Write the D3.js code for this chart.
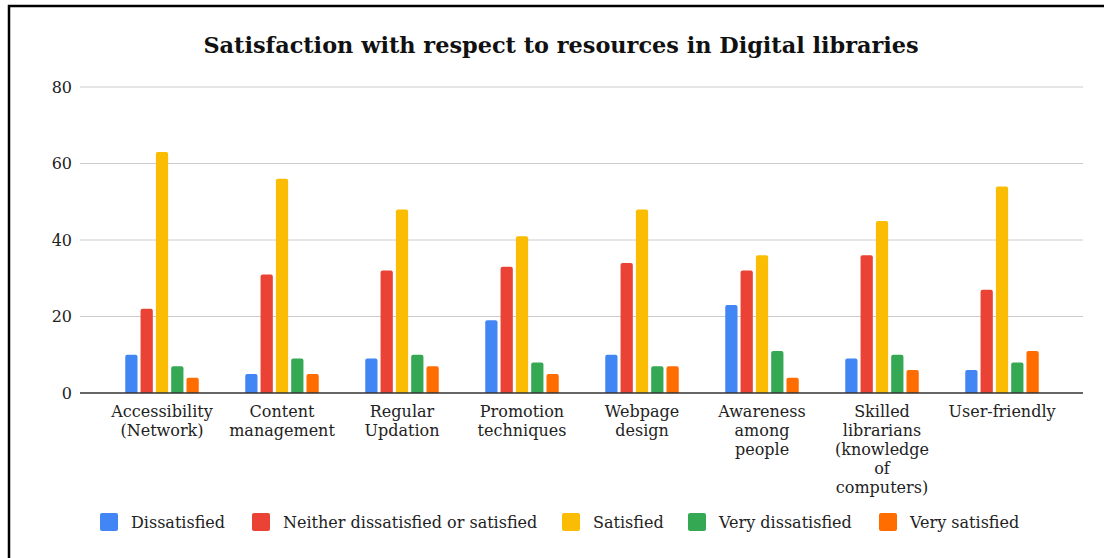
<!DOCTYPE html>
<html>
<head>
<meta charset="utf-8">
<script src="https://cdn.jsdelivr.net/npm/d3@7"></script>
<style>
  html, body { margin: 0; padding: 0; background: #fff; }
  svg { display: block; }
  text { font-family: "DejaVu Serif", "Liberation Serif", serif; fill: #222; }
</style>
</head>
<body>
<svg id="chart" width="1104" height="558"></svg>
<script>
// Survey categories (line breaks are where the axis label wraps)
const categories = [
  "Accessibility\n(Network)",
  "Content\nmanagement",
  "Regular\nUpdation",
  "Promotion\ntechniques",
  "Webpage\ndesign",
  "Awareness\namong\npeople",
  "Skilled\nlibrarians\n(knowledge\nof\ncomputers)",
  "User-friendly"
];

const seriesNames = [
  "Dissatisfied",
  "Neither dissatisfied or satisfied",
  "Satisfied",
  "Very dissatisfied",
  "Very satisfied"
];

const dissatisfied     = [10, 5, 9, 19, 10, 23, 9, 6];
const neither          = [22, 31, 32, 33, 34, 32, 36, 27];
const satisfied        = [63, 56, 48, 41, 48, 36, 45, 54];
const veryDissatisfied = [7, 9, 10, 8, 7, 11, 10, 8];
const verySatisfied    = [4, 5, 7, 5, 7, 4, 6, 11];

const yTicks = [0, 20, 40, 60, 80];

const colors = ["#4285F4", "#EA4335", "#FBBC04", "#34A853", "#FF6D01"];

const seriesValues = [dissatisfied, neither, satisfied, veryDissatisfied, verySatisfied];

const svg = d3.select("#chart");

// Outer frame
svg.append("rect")
  .attr("x", 9).attr("y", 6)
  .attr("width", 1300).attr("height", 700)
  .attr("fill", "none").attr("stroke", "#000").attr("stroke-width", 2.5);

// Title
svg.append("text")
  .attr("x", 561).attr("y", 53)
  .attr("text-anchor", "middle")
  .style("font-size", "22.4px")
  .style("font-weight", "bold")
  .style("fill", "#111")
  .text("Satisfaction with respect to resources in Digital libraries");

const plotLeft = 80, plotRight = 1083;

const y = d3.scaleLinear().domain([0, 80]).range([393, 87]);

const x0 = d3.scaleBand()
  .domain(categories)
  .range([102, 1062])
  .paddingInner(0.3875)
  .paddingOuter(0.19375);

const x1 = d3.scaleBand()
  .domain(seriesNames)
  .range([0, x0.bandwidth()])
  .paddingInner(0.2)
  .paddingOuter(0);

// Gridlines
const grid = svg.append("g");
grid.selectAll("line")
  .data(yTicks.filter(t => t !== 0))
  .join("line")
  .attr("x1", plotLeft).attr("x2", plotRight)
  .attr("y1", d => y(d)).attr("y2", d => y(d))
  .attr("stroke", "#cccccc").attr("stroke-width", 1);

// Y axis labels
const yAxis = d3.axisLeft(y).tickValues(yTicks).tickSize(0).tickPadding(8);
const yG = svg.append("g").attr("transform", `translate(${plotLeft},0)`).call(yAxis);
yG.select(".domain").remove();
yG.selectAll("text")
  .style("font-family", "\"DejaVu Serif\", serif")
  .style("font-size", "16px")
  .style("fill", "#222");

// Bars
const rows = categories.map((c, i) => ({
  cat: c,
  vals: seriesNames.map((s, j) => ({ key: s, value: seriesValues[j][i], color: colors[j] }))
}));

const groups = svg.append("g").selectAll("g")
  .data(rows)
  .join("g")
  .attr("transform", d => `translate(${x0(d.cat)},0)`);

groups.selectAll("path")
  .data(d => d.vals)
  .join("path")
  .attr("fill", d => d.color)
  .attr("d", d => {
    const x = x1(d.key), w = x1.bandwidth();
    const top = y(d.value), bottom = y(0);
    const r = Math.min(2, (bottom - top) / 2);
    return `M${x},${bottom}V${top + r}Q${x},${top} ${x + r},${top}H${x + w - r}Q${x + w},${top} ${x + w},${top + r}V${bottom}Z`;
  });

// Baseline
svg.append("line")
  .attr("x1", plotLeft).attr("x2", plotRight)
  .attr("y1", y(0)).attr("y2", y(0))
  .attr("stroke", "#333").attr("stroke-width", 1.3);

// X axis labels
const xAxis = d3.axisBottom(x0).tickSize(0).tickPadding(0);
const xG = svg.append("g").attr("transform", `translate(0,${y(0)})`).call(xAxis);
xG.select(".domain").remove();
xG.selectAll(".tick text").each(function (d) {
  const t = d3.select(this);
  const lines = d.split("\n");
  t.text(null)
    .attr("y", 0).attr("dy", null)
    .style("font-family", "\"DejaVu Serif\", serif")
    .style("font-size", "16px")
    .style("fill", "#222");
  lines.forEach((ln, k) => {
    t.append("tspan")
      .attr("x", 0)
      .attr("y", 24 + k * 19)
      .text(ln);
  });
});

// Legend
const legendX = [100, 252, 562, 688, 879];
const legend = svg.append("g");
const items = legend.selectAll("g")
  .data(seriesNames.map((s, j) => ({ name: s, color: colors[j], x: legendX[j] })))
  .join("g")
  .attr("transform", d => `translate(${d.x},513)`);
items.append("rect")
  .attr("width", 18).attr("height", 18).attr("rx", 2)
  .attr("fill", d => d.color);
items.append("text")
  .attr("x", 31).attr("y", 14.5)
  .style("font-size", "16px")
  .text(d => d.name);
</script>
</body>
</html>
